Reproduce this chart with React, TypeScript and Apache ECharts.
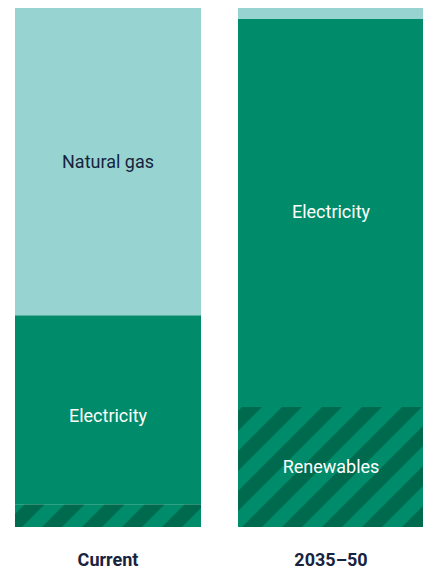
import React, { useEffect, useRef } from "react";
import * as echarts from "echarts";

const categories = ["Current", "2035–50"];
const renewables = [4.4, 23.1];
const electricity = [36.4, 74.8];
const naturalGas = [59.2, 2.1];

const GAS = "#97d4d1";
const ELEC = "#008c6a";
const DARK = "#006a4f";
const NAVY = "#18233f";
const FONT = "Roboto, 'Noto Sans', sans-serif";

function makeStripe(): HTMLCanvasElement {
  const c = document.createElement("canvas");
  c.width = 40;
  c.height = 40;
  const ctx = c.getContext("2d")!;
  ctx.fillStyle = ELEC;
  ctx.fillRect(0, 0, 40, 40);
  ctx.strokeStyle = DARK;
  ctx.lineWidth = 20 / Math.SQRT2;
  for (const k of [-61, -21, 19, 59, 99]) {
    ctx.beginPath();
    ctx.moveTo(k + 20, -20);
    ctx.lineTo(k - 60, 60);
    ctx.stroke();
  }
  return c;
}

export default function App() {
  const ref = useRef<HTMLDivElement>(null);
  useEffect(() => {
    const chart = echarts.init(ref.current!, null, { renderer: "svg" });
    const stripe = makeStripe();
    const labelBase = {
      show: true,
      position: "inside",
      fontFamily: FONT,
      fontSize: 18,
      color: "#ffffff",
    };
    chart.setOption({
      animation: false,
      grid: { left: -3.5, right: -19.5, top: 8, bottom: 42, outerBoundsMode: "none" },
      xAxis: {
        type: "category",
        data: categories,
        axisLine: { show: false },
        axisTick: { show: false },
        axisLabel: {
          color: NAVY,
          fontFamily: FONT,
          fontSize: 18,
          fontWeight: "bold",
          margin: 23,
        },
      },
      yAxis: {
        type: "value",
        min: 0,
        max: 100,
        show: false,
        splitLine: { show: false },
      },
      series: [
        {
          name: "Renewables",
          type: "bar",
          stack: "s",
          barWidth: 186,
          itemStyle: { color: { image: stripe, repeat: "repeat" } },
          data: [
            { value: renewables[0], label: { show: false } },
            { value: renewables[1], label: { ...labelBase, formatter: "Renewables", offset: [0, -1] } },
          ],
        },
        {
          name: "Electricity",
          type: "bar",
          stack: "s",
          barWidth: 186,
          itemStyle: { color: ELEC },
          data: [
            { value: electricity[0], label: { ...labelBase, formatter: "Electricity", offset: [0, 6] } },
            { value: electricity[1], label: { ...labelBase, formatter: "Electricity", offset: [0, -2] } },
          ],
        },
        {
          name: "Natural gas",
          type: "bar",
          stack: "s",
          barWidth: 186,
          itemStyle: { color: GAS },
          data: [
            { value: naturalGas[0], label: { ...labelBase, color: NAVY, formatter: "Natural gas" } },
            { value: naturalGas[1], label: { show: false } },
          ],
        },
      ],
    });
    return () => chart.dispose();
  }, []);
  return (
    <div
      ref={ref}
      style={{ position: "fixed", left: 0, top: 0, width: 423, height: 569, background: "#fff" }}
    />
  );
}
